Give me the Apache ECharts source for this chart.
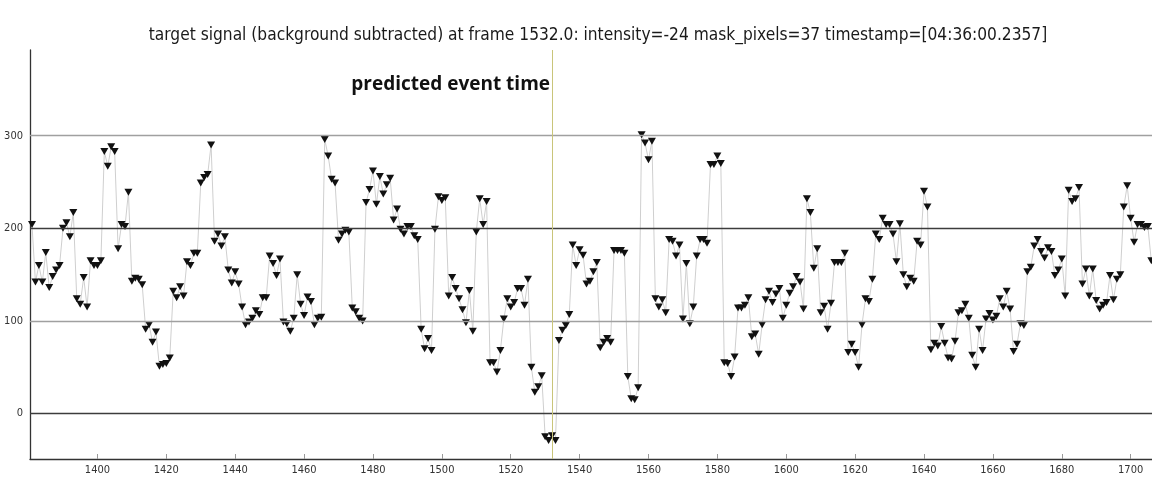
<!DOCTYPE html>
<html><head><meta charset="utf-8">
<script src="https://cdn.jsdelivr.net/npm/echarts@6/dist/echarts.min.js"></script>
<style>html,body{margin:0;padding:0;background:#fff}#c{width:1152px;height:500px}</style>
</head><body><div id="c"></div>
<script>
const firstFrame = 1381;
const intensity = [
204,142,160,142,174,136,148,155,160,200,206,191,217,124,118,147,115,165,160,160,
165,283,267,288,283,178,204,202,239,143,146,145,139,91,96,77,88,51,53,54,
60,132,125,137,127,164,160,173,173,249,255,258,290,186,194,181,191,155,141,153,
140,115,96,99,103,111,107,125,125,170,162,149,167,99,97,89,103,150,118,106,
126,121,96,103,104,296,278,253,249,187,194,198,196,114,110,103,100,228,242,262,
226,256,237,247,254,209,221,199,194,202,202,192,188,91,70,81,68,199,234,230,
233,127,147,135,124,112,98,133,89,196,232,204,229,55,55,45,68,102,124,115,
120,135,135,117,145,50,23,29,41,-25,-29,-24,-29,79,90,95,107,182,160,177,
171,140,143,153,163,71,77,81,77,176,176,176,173,40,16,15,28,301,292,274,
294,124,115,123,109,188,186,170,182,102,162,97,115,170,188,188,184,269,269,278,
270,55,54,40,61,114,114,117,125,83,86,64,96,123,132,120,129,135,103,117,
130,137,148,142,113,232,217,157,178,109,116,91,119,163,163,163,173,66,75,66,
50,96,124,121,145,194,188,211,204,204,194,164,205,150,137,146,143,186,182,240,
223,69,76,73,94,76,60,59,78,109,111,118,103,63,50,91,68,102,108,101,
105,124,115,132,113,67,75,97,95,153,158,181,188,175,168,179,175,149,155,167,
127,241,229,232,244,140,156,127,156,122,113,117,120,149,123,145,150,223,246,211,
185,204,204,201,202,165
];
const xTicks = [1400,1420,1440,1460,1480,1500,1520,1540,1560,1580,1600,1620,1640,1660,1680,1700];
const yTicks = [0,100,200,300];
const majorGrid = [0,200];
const minorGrid = [100,300];
const eventFrame = 1532;
const titleText = 'target signal (background subtracted) at frame 1532.0: intensity=-24 mask_pixels=37 timestamp=[04:36:00.2357]';
const eventLabel = 'predicted event time';

const points = intensity.map((v, i) => [firstFrame + i, v]);

const chart = echarts.init(document.getElementById('c'), null, {renderer: 'canvas'});
const axisFont = {fontFamily: 'DejaVu Sans Condensed', fontSize: 11, color: '#333', formatter: v => String(v)};

const gridLines = majorGrid.map(v => ({yAxis: v, lineStyle: {color: '#3c3c3c', width: 1.3, type: 'solid'}}))
  .concat(minorGrid.map(v => ({yAxis: v, lineStyle: {color: '#a0a0a0', width: 1.3, type: 'solid'}})));

chart.setOption({
  animation: false,
  backgroundColor: '#fff',
  title: {
    text: titleText,
    left: 593, top: 22, textAlign: 'center',
    textStyle: {fontFamily: 'DejaVu Sans Condensed', fontSize: 17.2, fontWeight: 'normal', color: '#1a1a1a'}
  },
  grid: {left: 30, right: 0, top: 50, bottom: 41, containLabel: false},
  xAxis: {
    type: 'value', min: 1380.42, max: 1706.2,
    axisLine: {show: true, onZero: false, lineStyle: {color: '#333', width: 1.3}},
    axisTick: {show: true, inside: true, length: 5, customValues: xTicks, lineStyle: {color: '#999'}},
    axisLabel: Object.assign({customValues: xTicks, margin: 6}, axisFont),
    splitLine: {show: false}
  },
  yAxis: {
    type: 'value', min: -49, max: 392.5,
    axisLine: {show: true, lineStyle: {color: '#333', width: 1.3}},
    axisTick: {show: false, customValues: yTicks},
    axisLabel: Object.assign({customValues: yTicks, margin: 7}, axisFont),
    splitLine: {show: false}
  },
  series: [
    {
      type: 'line', data: [], silent: true, z: 1,
      markLine: {silent: true, symbol: ['none', 'none'], label: {show: false}, animation: false, data: gridLines}
    },
    {
      type: 'line', data: points, z: 3,
      lineStyle: {color: '#cfcfcf', width: 1},
      symbol: 'triangle', symbolRotate: 180, symbolSize: [8, 7], showSymbol: true,
      itemStyle: {color: '#111'},
      markLine: {
        silent: true, symbol: ['none', 'none'], label: {show: false}, animation: false,
        data: [{xAxis: eventFrame, lineStyle: {color: '#c9c57a', width: 1, type: 'solid'}}]
      }
    }
  ]
});

const ex = chart.convertToPixel({gridIndex: 0}, [eventFrame, 0])[0];
chart.setOption({
  graphic: [{
    type: 'text', right: 1152 - ex + 2, top: 75,
    style: {text: eventLabel, font: 'bold 19px "Open Sans"', fill: '#111'}
  }]
});
</script></body></html>
